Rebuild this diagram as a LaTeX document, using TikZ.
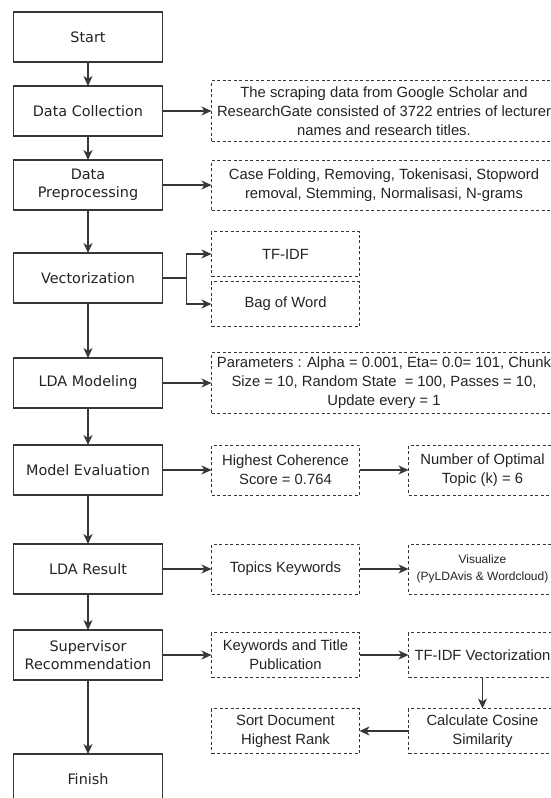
\documentclass[tikz,border=0pt]{standalone}
\usepackage{fontspec}
\setmainfont{Liberation Sans}
\newfontfamily\stagefont{DejaVu Sans}
\usepackage{xcolor}
\usetikzlibrary{shapes,arrows.meta,positioning,calc}
\definecolor{linegray}{RGB}{55, 55, 55}
\definecolor{textgray}{RGB}{35, 35, 35}

\begin{document}
\begin{tikzpicture}[
    node distance=24pt,
    every node/.style={align=center, text=textgray},
    process/.style={rectangle, minimum width=149pt, minimum height=50pt, outer sep=0pt, inner sep=2pt, text centered, draw=linegray, line width=1.3pt, font=\stagefont\fontsize{14.4}{18.3}\selectfont},
    detail/.style={rectangle, minimum width=148pt, minimum height=45pt, outer sep=0pt, inner sep=2pt, text centered, draw=linegray, line width=1pt, dash pattern=on 3pt off 2.5pt, font=\fontsize{14.8}{19}\selectfont},
    widedetail/.style={detail, minimum width=345pt},
    arrow/.style={line width=1.2pt, draw=linegray, -{Stealth[length=10pt, width=9pt, inset=3pt]}}
]
\useasboundingbox (0,0) rectangle (550pt,-798pt);

% Main flow
\node[process] (start) at (88pt,-37pt) {Start};
\node[process, below=of start] (collect) {Data Collection};
\node[process, below=of collect] (preproc) {Data\\Preprocessing};
\node[process, below=43pt of preproc] (vector) {Vectorization};
\node[process, below=55pt of vector] (lda) {LDA Modeling};
\node[process, below=37pt of lda] (evaluate) {Model Evaluation};
\node[process, below=49pt of evaluate] (result) {LDA Result};
\node[process, below=36pt of result] (supervisor) {Supervisor\\Recommendation};
\node[process, below=74pt of supervisor] (finish) {Finish};

% Details of each stage
\node[widedetail, minimum height=61pt, right=49pt of collect] (scrape) {The scraping data from Google Scholar and\\ResearchGate consisted of 3722 entries of lecturer\\names and research titles.};
\node[widedetail, minimum height=50pt, right=49pt of preproc] (clean) {Case Folding, Removing, Tokenisasi, Stopword\\removal, Stemming, Normalisasi, N-grams};
\node[detail, anchor=west] (tfidf) at ([xshift=49pt, yshift=24pt]vector.east) {TF-IDF};
\node[detail, anchor=west] (bow) at ([xshift=49pt, yshift=-26pt]vector.east) {Bag of Word};
\node[widedetail, minimum height=61pt, right=49pt of lda] (params) {Parameters : Alpha = 0.001, Eta= 0.0= 101, Chunk\\Size = 10, Random State\ \ = 100, Passes = 10,\\Update every = 1};
\node[detail, minimum height=50pt, right=49pt of evaluate] (coherence) {Highest Coherence\\Score = 0.764};
\node[detail, minimum height=50pt, right=49pt of coherence] (optimal) {Number of Optimal\\Topic (k) = 6};
\node[detail, minimum height=50pt, right=49pt of result] (keywords) {Topics Keywords};
\node[detail, minimum height=50pt, right=49pt of keywords, font=\fontsize{12}{17}\selectfont] (visual) {Visualize\\(PyLDAvis \& Wordcloud)};
\node[detail, right=49pt of supervisor] (titles) {Keywords and Title\\Publication};
\node[detail, right=49pt of titles] (tfvector) {TF-IDF Vectorization};
\node[detail, below=31pt of tfvector] (cosine) {Calculate Cosine\\Similarity};
\node[detail, below=31pt of titles] (sortrank) {Sort Document\\Highest Rank};
\coordinate[right=24pt of vector] (split);

% Connections
\draw[arrow] (start) -- (collect);
\draw[arrow] (collect) -- (preproc);
\draw[arrow] (preproc) -- (vector);
\draw[arrow] (vector) -- (lda);
\draw[arrow] (lda) -- (evaluate);
\draw[arrow] (evaluate) -- (result);
\draw[arrow] (result) -- (supervisor);
\draw[arrow] (supervisor) -- (finish);

\draw[arrow] (collect) -- (scrape);
\draw[arrow] (preproc) -- (clean);
\draw[arrow] (vector) -- (split) |- (tfidf);
\draw[arrow] (split) |- (bow);
\draw[arrow] (lda) -- (params);
\draw[arrow] (evaluate) -- (coherence);
\draw[arrow] (coherence) -- (optimal);
\draw[arrow] (result) -- (keywords);
\draw[arrow] (keywords) -- (visual);
\draw[arrow] (supervisor) -- (titles);
\draw[arrow] (titles) -- (tfvector);
\draw[arrow] (tfvector) -- (cosine);
\draw[arrow] (cosine) -- (sortrank);

\end{tikzpicture}
\end{document}
